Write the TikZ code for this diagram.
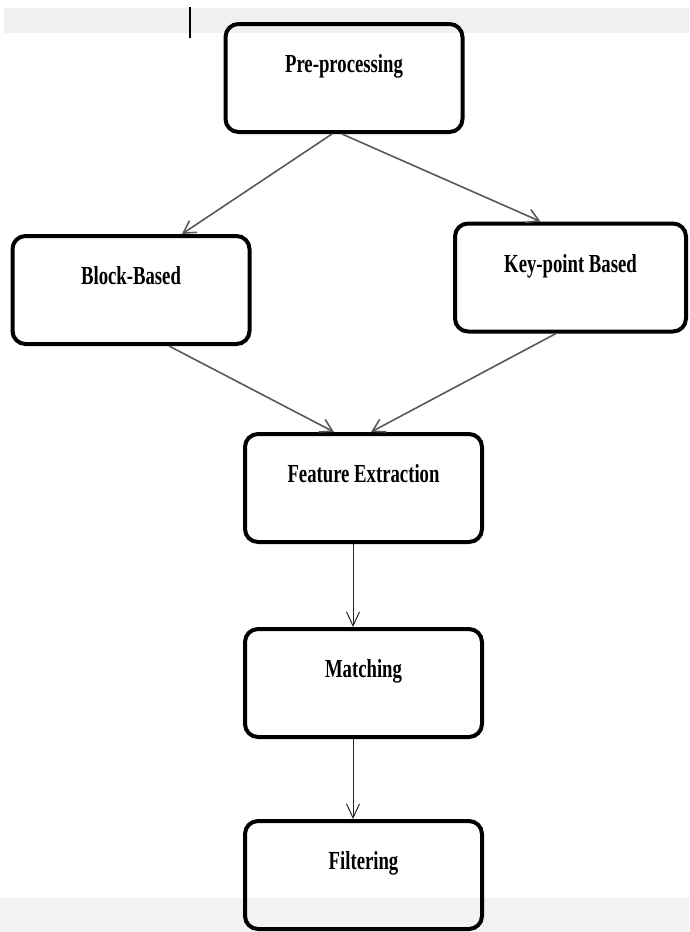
\documentclass[tikz,border=0pt]{standalone}
\usepackage{fontspec}
\setmainfont{Liberation Serif}[FakeStretch=0.72]
\usetikzlibrary{arrows.meta}

\begin{document}
\begin{tikzpicture}[x=1pt, y=-1pt,
    stage/.style={draw, line width=4pt, rounded corners=13pt, minimum width=237pt,
        minimum height=108pt, font=\fontsize{26}{30}\selectfont\bfseries,
        text height=20pt, text depth=31pt, inner sep=0pt},
    link/.style={draw=black!65, line width=1.6pt, -{Straight Barb[length=12pt,width=14pt]}},
    flow/.style={draw=black!85, line width=1pt, -{Straight Barb[length=14pt,width=13pt]}}]
\useasboundingbox (0,0) rectangle (689,932);
    % screen bands
    \fill[black!6] (4,8) rectangle (689,33);
    \fill[black!5] (0,898) rectangle (689,932);
    \draw[line width=2pt] (190,7) -- (190,38);

    \node[stage] (pre) at (344,78) {Pre-processing};
    \node[stage] (block) at (131,290) {Block-Based};
    \node[stage, minimum width=231pt] (key) at (570.5,277.5) {Key-point Based};
    \node[stage] (feat) at (363.5,488) {Feature Extraction};
    \node[stage] (match) at (363.5,683) {Matching};
    \node[stage] (filt) at (363.5,875) {Filtering};

    \draw[link] ([xshift=-12pt]pre.south) -- ([xshift=51pt]block.north);
    \draw[link] ([xshift=-2pt]pre.south) -- ([xshift=-30pt]key.north);
    \draw[link] ([xshift=38pt]block.south) -- ([xshift=-29.5pt]feat.north);
    \draw[link] ([xshift=-14.5pt]key.south) -- ([xshift=7.5pt]feat.north);
    \draw[flow] ([xshift=-10.5pt]feat.south) -- ([xshift=-10.5pt]match.north);
    \draw[flow] ([xshift=-10.5pt]match.south) -- ([xshift=-10.5pt]filt.north);
\end{tikzpicture}
\end{document}
